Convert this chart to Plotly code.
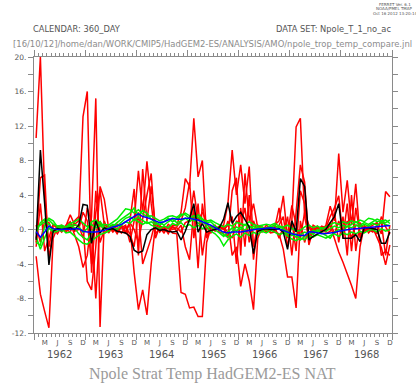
import plotly.graph_objects as go

# ---- data (monthly, Jan 1962 .. Dec 1968, 360-day calendar) ----
month_index = list(range(84))            # months since Jan 1962
red_1 = [10.6, 20.0, 4.0, -2.0, 0.5, 0.2, -0.3, 0.4, 1.7, 0.6, 1.0, 13.1,
         16.0, -5.0, 2.0, 4.5, 0.5, 0.3, -0.2, 0.6, 0.2, 0.5, -1.5, 1.0,
         6.8, 2.0, 7.9, 3.0, -1.0, 0.4, 0.2, -0.3, 0.5, 0.5, 2.0, 5.9,
         5.0, 12.9, 6.1, 8.0, -1.0, 0.3, -0.2, 0.4, 0.5, 3.0, 9.2, 4.0,
         7.5, 3.0, 7.3, -2.0, 0.5, 0.2, -0.3, 0.3, 0.5, 1.0, 3.9, -1.0,
         1.0, 11.9, 12.9, 1.5, -1.0, 0.5, 0.2, -0.2, 0.5, 2.7, 1.0, 8.8,
         2.0, 5.7, 0.5, 5.3, -1.0, 0.3, 0.3, -0.2, 0.5, -0.5, 4.4, 3.8]
red_2 = [-3.1, -7.5, -9.5, -11.4, -1.0, 0.3, 0.5, -0.2, 0.8, -0.5, -2.0, -4.4,
         -3.0, 1.5, 15.2, -11.3, 1.0, -0.4, 0.3, -0.5, 0.4, 0.2, 0.5, -5.0,
         -9.3, -7.0, -9.9, -4.0, 0.5, -0.3, 0.4, 0.2, -0.4, -0.5, -7.3, -7.5,
         -9.1, -9.0, -10.1, -10.1, -1.5, 0.2, 0.5, -0.3, -0.5, 1.0, -3.0, -2.0,
         -6.6, -4.0, -6.0, -9.3, -1.0, 0.3, 0.1, -0.4, -0.3, -0.5, -2.3, -5.5,
         -5.5, -9.1, 1.0, -1.5, 0.3, -0.5, 0.4, 0.0, -0.3, 0.5, -1.0, -2.6,
         -3.8, -5.1, -6.5, -8.0, -2.0, 0.5, -0.4, 0.2, -1.0, -2.1, -4.1, -1.8]
red_3 = [-1.5, 6.0, 6.3, -3.5, 0.2, -0.5, 0.4, 0.1, -0.3, 1.0, 1.5, 0.5,
         -6.0, -7.0, -2.0, 5.0, 3.5, 0.2, 0.5, -0.3, 0.3, -0.5, 1.0, 4.7,
         -3.0, 7.0, 1.0, 5.0, 0.3, 0.5, -0.2, 0.6, 0.2, 0.3, 1.0, 2.5,
         5.5, -1.0, 3.0, -3.0, 0.3, -0.4, 0.3, 0.2, 0.3, -1.0, 4.5, 6.0,
         -3.0, 6.5, 1.0, 3.0, 0.2, -0.3, 0.5, 0.1, 0.2, 2.5, -0.5, 1.5,
         -3.0, 2.0, 7.5, 5.5, -1.5, 0.3, -0.3, 0.4, 0.2, 1.5, 2.5, 3.9,
         -1.0, 3.0, -2.5, 2.5, -0.5, -0.3, 0.2, 0.5, 0.8, -3.0, -2.5, -3.0]
red_4 = [-2.0, 3.0, -2.5, -1.0, 0.6, 0.3, -0.2, 0.5, 0.9, -0.2, 0.0, 2.0,
         1.0, -4.0, 4.5, -1.5, 0.0, 0.4, -0.3, 0.2, -0.4, 0.3, -0.5, -2.0,
         2.0, -4.0, -2.5, -1.0, 1.0, -0.2, 0.3, -0.5, 0.4, -0.2, 0.5, -2.0,
         -3.5, 2.5, -4.5, 3.0, -0.5, 0.4, -0.1, 0.3, 0.0, 0.5, 1.5, -4.0,
         2.5, -2.0, 4.0, -3.5, 0.5, 0.0, -0.2, 0.3, -0.2, 0.5, 1.5, -2.0,
         1.0, -2.5, 4.5, 3.0, -1.8, 0.0, 0.3, -0.4, -0.5, -0.2, 2.0, -1.5,
         1.5, -3.0, 4.0, -2.5, 0.8, 0.0, 0.0, -0.3, 0.5, 0.8, -3.0, 0.5]
red_5 = [0.5, -1.5, 1.0, 0.8, -0.3, 0.4, 0.2, -0.3, 0.3, 0.5, 0.5, -1.0,
         2.5, 1.0, -8.0, 1.0, -0.5, 0.2, 0.0, -0.2, 0.5, -0.3, 0.8, 0.0,
         -1.5, 1.5, 4.0, 6.5, -0.5, 0.2, -0.4, 0.3, 0.0, 0.2, -0.3, 0.8,
         1.0, 4.5, 1.0, 2.0, 0.8, -0.2, 0.2, 0.0, 0.2, -0.3, -1.0, 1.0,
         0.5, 2.5, -1.5, 1.0, -0.3, 0.2, 0.0, -0.2, 0.3, -1.0, 0.3, -0.8,
         2.8, 0.5, -1.0, 2.0, 0.5, -0.2, 0.1, 0.3, 0.1, 0.8, -0.5, 1.0,
         -0.5, 1.0, -1.0, 0.5, 0.5, -0.2, 0.2, 0.1, -0.5, 1.5, 0.3, -0.5]
green_1 = [-0.5, 0.8, 1.2, 1.1, 0.6, 0.4, 0.5, 0.3, 0.7, 0.9, 1.2, 0.8,
           0.3, 0.6, 0.2, 0.4, 0.6, 0.5, 0.9, 1.2, 1.8, 2.4, 2.3, 1.9,
           2.3, 1.8, 1.5, 1.6, 1.3, 1.0, 1.2, 1.5, 1.6, 1.4, 1.8, 1.7,
           1.3, 1.6, 1.4, 1.1, 1.0, 1.1, 0.8, 0.5, 0.3, 0.6, 0.4, 0.8,
           0.7, 0.5, 0.9, 0.6, 0.4, 0.5, 0.6, 0.5, 0.7, 0.4, 0.3, 0.5,
           0.2, -0.2, -0.1, 0.3, 0.5, 0.2, 0.4, 0.1, 0.3, 0.6, 0.8, 0.6,
           0.9, 0.7, 1.0, 0.8, 1.1, 0.9, 1.3, 1.2, 0.9, 1.0, 0.8, 1.1]
green_2 = [-0.8, -2.3, -1.0, 0.2, -0.3, -0.2, 0.1, -0.4, -0.3, -0.8, -1.2, -1.6,
           -1.7, -1.3, -0.9, -0.6, -0.4, -0.2, 0.2, 0.0, 0.5, 0.9, 0.7, 1.2,
           0.9, 0.6, 0.9, 0.5, 0.3, 0.1, 0.4, 0.2, 0.7, 0.5, 0.8, 0.3,
           0.6, 0.2, 0.5, 0.1, 0.3, -0.2, -0.5, -1.0, -1.9, -1.2, -0.8, -0.5,
           -0.9, -0.4, -0.7, -0.3, -0.6, -0.2, -0.4, -0.1, -0.3, -0.6, -0.4, -0.8,
           -1.1, -1.3, -1.0, -1.2, -0.7, -0.9, -0.6, -0.8, -1.0, -0.7, -0.5, -0.8,
           -0.4, -0.6, -0.3, -0.5, -0.2, -0.4, -0.1, 0.0, -0.3, 0.1, -0.2, 0.0]
green_3 = [-1.5, -1.8, 0.4, 1.3, 1.0, 0.3, -0.2, 0.2, 0.5, 0.2, -0.5, -0.9,
           -1.2, -0.4, 0.5, 0.9, 0.3, -0.1, 0.4, 0.8, 1.2, 1.6, 1.9, 2.5,
           1.6, 2.2, 1.9, 1.2, 0.8, 0.5, 0.9, 1.3, 0.9, 1.2, 1.5, 1.9,
           1.6, 1.0, 1.7, 1.3, 0.8, 0.9, 0.4, 0.1, -0.6, -0.9, -0.2, 0.3,
           0.0, 0.6, 0.2, 0.4, 0.0, 0.3, -0.1, 0.2, 0.5, 0.1, -0.2, -0.5,
           -0.4, -0.9, -0.6, -0.3, -0.5, -0.1, -0.3, 0.2, -0.2, 0.1, 0.4, 0.2,
           0.5, 0.3, 0.6, 0.9, 0.5, 0.8, 0.6, 0.9, 1.2, 1.0, 1.1, 0.7]
green_4 = [0.3, 0.5, 0.9, 0.6, -0.1, 0.2, 0.3, 0.0, 0.4, 0.6, 0.3, -0.3,
           0.1, 0.9, 1.1, 0.5, 0.0, 0.3, 0.6, 0.4, 0.9, 1.3, 1.5, 1.1,
           1.4, 1.1, 0.7, 0.9, 0.6, 0.8, 0.5, 0.9, 1.2, 0.8, 1.0, 1.3,
           0.9, 1.3, 0.7, 0.9, 0.5, 0.3, 0.0, -0.4, -0.8, -0.3, 0.2, -0.2,
           0.3, -0.1, 0.4, 0.1, 0.3, -0.2, 0.2, 0.4, 0.0, 0.3, 0.1, -0.2,
           -0.7, -0.5, -1.2, -0.8, -0.2, -0.6, 0.0, -0.4, -0.7, -1.0, -0.3, 0.0,
           -0.2, 0.4, 0.2, 0.5, 0.3, 0.6, 0.4, 0.7, 0.5, 0.8, 0.6, 0.4]
black = [-1.2, 9.2, 3.0, -4.1, -0.2, 0.1, 0.0, 0.1, 0.2, 0.0, 0.5, 2.9,
         2.8, -1.6, 1.0, -0.4, 0.2, 0.0, 0.1, -0.2, -0.3, -0.4, -0.8, -2.4,
         -2.7, -2.5, -0.6, 0.0, 0.2, -0.1, 0.0, -0.2, -0.3, -0.2, -1.2, -0.2,
         1.2, 3.0, -0.3, 0.7, -0.3, -0.1, 0.0, 0.2, 1.2, 3.1, 0.7, 1.5,
         2.0, 1.2, 0.3, -2.8, -0.2, 0.0, 0.1, 0.0, 0.0, 0.1, -0.3, -2.3,
         1.0, -0.3, 5.9, 5.0, -1.2, -0.8, -0.5, -0.3, 0.0, 0.8, 1.5, 3.0,
         -1.0, -1.0, -1.0, -0.6, -1.4, 0.2, 0.2, 0.1, 0.0, -1.6, -1.6, -0.3]
blue = [-0.25, -0.9, -0.3, 0.4, 0.1, 0.0, 0.0, 0.05, 0.0, 0.1, 0.1, -0.2,
        -0.3, -0.3, -0.3, -0.2, -0.1, 0.1, 0.3, 0.4, 0.6, 0.9, 1.2, 1.6,
        1.8, 1.5, 1.4, 1.2, 1.0, 0.8, 0.9, 1.1, 1.3, 1.2, 1.2, 1.3,
        1.3, 1.2, 1.1, 0.9, 0.7, 0.5, 0.2, -0.1, -0.3, -0.4, -0.3, -0.3,
        -0.3, -0.2, -0.1, 0.0, 0.05, 0.1, 0.15, 0.2, 0.15, 0.05, -0.1, -0.3,
        -0.5, -0.6, -0.7, -0.7, -0.25, -0.3, -0.4, -0.5, -0.45, -0.4, -0.35, -0.2,
        -0.1, 0.0, 0.05, 0.1, 0.15, 0.2, 0.25, 0.3, 0.3, 0.35, 0.4, 0.45]

years = [1962, 1963, 1964, 1965, 1966, 1967, 1968]
month_letters = ["M", "J", "S", "D"]
month_letter_offsets = [2, 5, 8, 11]
y_tick_values = list(range(-12, 21, 2))
y_tick_labels = [f"{v}." if v % 4 == 0 else "" for v in y_tick_values]

x = [m + 0.5 for m in month_index]

fig = go.Figure()
for s in [red_1, red_2, red_3, red_4, red_5]:
    fig.add_trace(go.Scatter(x=x, y=s, mode="lines", line=dict(color="#ff0000", width=1.5)))
for s in [green_1, green_2, green_3, green_4]:
    fig.add_trace(go.Scatter(x=x, y=s, mode="lines", line=dict(color="#00ee00", width=1.5)))
fig.add_trace(go.Scatter(x=x, y=black, mode="lines", line=dict(color="#000000", width=1.5)))
fig.add_trace(go.Scatter(x=x, y=blue, mode="lines", line=dict(color="#0000ff", width=1.5)))

# invisible trace to activate the month-letter axis
label_x = [12 * (y - 1962) + o + 0.5 for y in years for o in month_letter_offsets]
label_t = [month_letters[i % 4] for i in range(len(label_x))]
fig.add_trace(go.Scatter(x=[0, 84], y=[0, 0], xaxis="x2", mode="lines",
                         line=dict(color="rgba(0,0,0,0)"), hoverinfo="skip"))

axis_col = "#8a8a8a"
text_col = "#555555"
fig.update_layout(
    width=416, height=383,
    margin=dict(l=25, r=24, t=57, b=50),
    paper_bgcolor="white", plot_bgcolor="white",
    showlegend=False,
    xaxis=dict(range=[0, 84], tickmode="linear", tick0=0, dtick=12,
               ticks="outside", ticklen=6, tickcolor=axis_col, tickwidth=1,
               minor=dict(tick0=0, dtick=1, ticks="outside", ticklen=3,
                          tickcolor=axis_col, tickwidth=1),
               showticklabels=False, showgrid=False, zeroline=False,
               showline=True, linecolor=axis_col, linewidth=1, mirror="ticks"),
    xaxis2=dict(range=[0, 84], overlaying="x", side="bottom", anchor="y",
                tickmode="array", tickvals=label_x, ticktext=label_t,
                ticks="outside", ticklen=3, tickcolor="rgba(0,0,0,0)",
                tickfont=dict(family="DejaVu Sans", size=7, color=text_col),
                showgrid=False, zeroline=False, showline=False),
    yaxis=dict(range=[-12, 20], tickmode="array", tickvals=y_tick_values,
               ticktext=y_tick_labels, ticks="outside", ticklen=5,
               tickcolor=axis_col, tickwidth=1,
               tickfont=dict(family="DejaVu Sans", size=7.5, color=text_col),
               showgrid=False, zeroline=True, zerolinecolor="#b0b0b0", zerolinewidth=1,
               showline=True, linecolor=axis_col, linewidth=1, mirror="ticks"),
)

def px_to_paper_x(px):
    return (px - 25) / (416 - 25 - 24)

def px_to_paper_y(py):
    return (383 - 50 - py) / (383 - 57 - 50)

annots = []
for yr in years:
    annots.append(dict(x=12 * (yr - 1962) + 6, y=px_to_paper_y(354), xref="x", yref="paper",
                       text=str(yr), showarrow=False, xanchor="center", yanchor="middle",
                       font=dict(family="DejaVu Sans", size=10, color=text_col)))
annots += [
    dict(x=px_to_paper_x(22), y=px_to_paper_y(29), text="CALENDAR: 360_DAY",
         xanchor="left", font=dict(family="DejaVu Sans", size=8.3, color=text_col)),
    dict(x=px_to_paper_x(393), y=px_to_paper_y(29), text="DATA SET: Npole_T_1_no_ac",
         xanchor="right", font=dict(family="DejaVu Sans", size=8.3, color=text_col)),
    dict(x=px_to_paper_x(208), y=px_to_paper_y(44),
         text="[16/10/12]/home/dan/WORK/CMIP5/HadGEM2-ES/ANALYSIS/AMO/npole_trop_temp_compare.jnl",
         xanchor="center", font=dict(family="DejaVu Sans", size=8.45, color="#8c8c8c")),
    dict(x=px_to_paper_x(208), y=px_to_paper_y(374), text="Npole Strat Temp HadGEM2-ES NAT",
         xanchor="center", font=dict(family="Liberation Serif", size=16, color="#9a9a9a")),
    dict(x=px_to_paper_x(395), y=px_to_paper_y(4), text="FERRET Ver. 6.1",
         xanchor="center", font=dict(family="DejaVu Sans", size=4, color=text_col)),
    dict(x=px_to_paper_x(395), y=px_to_paper_y(9), text="NOAA/PMEL TMAP",
         xanchor="center", font=dict(family="DejaVu Sans", size=4, color=text_col)),
    dict(x=px_to_paper_x(395), y=px_to_paper_y(14), text="Oct 16 2012 13:20:14",
         xanchor="center", font=dict(family="DejaVu Sans", size=4, color=text_col)),
]
for a in annots[len(years):]:
    a.update(xref="paper", yref="paper", showarrow=False, yanchor="middle")
fig.update_layout(annotations=annots)

fig.write_html("out.html", config={"displayModeBar": False},
               post_script="document.body.style.margin='0';document.body.style.overflow='hidden';")
